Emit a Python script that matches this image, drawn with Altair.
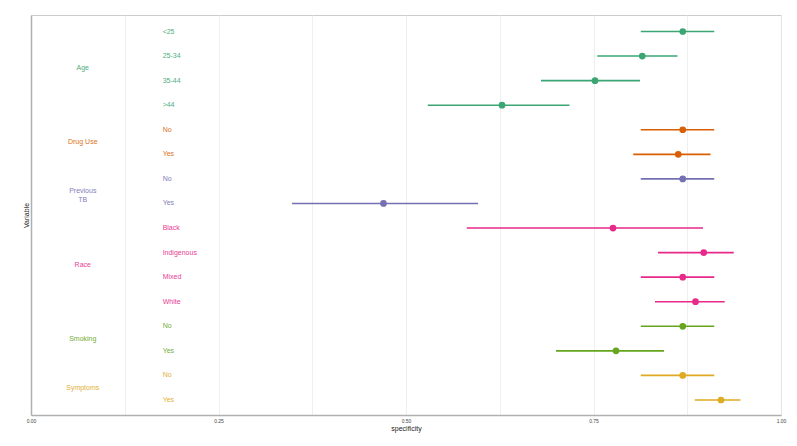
import altair as alt
import pandas as pd

groups = ["Age", "Age", "Age", "Age", "Drug Use", "Drug Use", "Previous TB", "Previous TB",
          "Race", "Race", "Race", "Race", "Smoking", "Smoking", "Symptoms", "Symptoms"]
levels = ["<25", "25-34", "35-44", ">44", "No", "Yes", "No", "Yes",
          "Black", "Indigenous", "Mixed", "White", "No", "Yes", "No", "Yes"]
estimate = [0.869, 0.815, 0.752, 0.628, 0.869, 0.863, 0.869, 0.470,
            0.776, 0.897, 0.869, 0.886, 0.869, 0.780, 0.869, 0.920]
lower = [0.813, 0.755, 0.680, 0.529, 0.813, 0.803, 0.813, 0.348,
         0.581, 0.836, 0.813, 0.832, 0.813, 0.700, 0.813, 0.885]
upper = [0.911, 0.862, 0.812, 0.718, 0.911, 0.906, 0.911, 0.596,
         0.896, 0.937, 0.911, 0.925, 0.911, 0.844, 0.911, 0.946]

group_names = ["Age", "Drug Use", "Previous TB", "Race", "Smoking", "Symptoms"]
group_display = ["Age", "Drug Use", "Previous\nTB", "Race", "Smoking", "Symptoms"]
group_colors = ["#3BA673", "#D95F02", "#7570B3", "#E7298A", "#66A61E", "#E0AA22"]

x_breaks = [0, 0.125, 0.25, 0.375, 0.5, 0.625, 0.75, 0.875, 1.0]
group_label_x = 0.069
level_label_x = 0.1755

df = pd.DataFrame({
    "group": groups,
    "level": levels,
    "est": estimate,
    "lo": lower,
    "hi": upper,
    "row": list(range(len(levels))),
})
df["lx"] = level_label_x

gdf = df.groupby("group", sort=False)["row"].mean().reset_index()
gdf["label"] = [group_display[group_names.index(g)] for g in gdf["group"]]
gdf["gx"] = group_label_x

color_scale = alt.Scale(domain=group_names, range=group_colors)
y_scale = alt.Scale(domain=[-0.672, 15.611], reverse=True, nice=False, zero=False)
x_scale = alt.Scale(domain=[0, 1], nice=False, zero=False)

base = alt.Chart(df)

rules = base.mark_rule(strokeWidth=1.6).encode(
    x=alt.X("lo:Q", scale=x_scale, title="specificity",
            axis=alt.Axis(values=x_breaks, grid=True, gridColor="#ebebeb", gridWidth=0.8,
                          ticks=False, labelFontSize=5, labelColor="#444444",
                          labelExpr="(datum.value * 4) % 1 === 0 ? format(datum.value, '.2f') : ''",
                          labelPadding=3, domainColor="#b0b0b0", domainWidth=1.5,
                          titleFontSize=7, titleFontWeight="normal", titleColor="#222222",
                          titlePadding=1, labelFlush=False)),
    x2="hi:Q",
    y=alt.Y("row:Q", scale=y_scale, title="Variable",
            axis=alt.Axis(labels=False, ticks=False, grid=False, domainColor="#b0b0b0",
                          domainWidth=1.5, titleFontSize=7, titleFontWeight="normal",
                          titleColor="#222222", titlePadding=2)),
    color=alt.Color("group:N", scale=color_scale, legend=None),
)

points = base.mark_circle(size=45, opacity=1).encode(
    x=alt.X("est:Q", scale=x_scale),
    y=alt.Y("row:Q", scale=y_scale),
    color=alt.Color("group:N", scale=color_scale, legend=None),
)

level_text = base.mark_text(align="left", baseline="middle", fontSize=7,
                            font="Liberation Sans", opacity=0.9).encode(
    x=alt.X("lx:Q", scale=x_scale),
    y=alt.Y("row:Q", scale=y_scale),
    text="level:N",
    color=alt.Color("group:N", scale=color_scale, legend=None),
)

group_text = alt.Chart(gdf).mark_text(align="center", baseline="middle", fontSize=7,
                                       font="Liberation Sans", lineBreak="\n",
                                       lineHeight=9, opacity=0.9).encode(
    x=alt.X("gx:Q", scale=x_scale),
    y=alt.Y("row:Q", scale=y_scale),
    text="label:N",
    color=alt.Color("group:N", scale=color_scale, legend=None),
)

chart = alt.layer(rules, points, level_text, group_text).properties(
    width=750, height=400,
    autosize=alt.AutoSizeParams(type="none"),
    padding={"left": 23, "top": 7, "right": 8, "bottom": 30},
).configure_view(stroke="#cccccc", strokeWidth=1).configure_axis(
    labelFont="Liberation Sans", titleFont="Liberation Sans"
)

chart.save("out.html", embed_options={"renderer": "svg", "actions": False})
